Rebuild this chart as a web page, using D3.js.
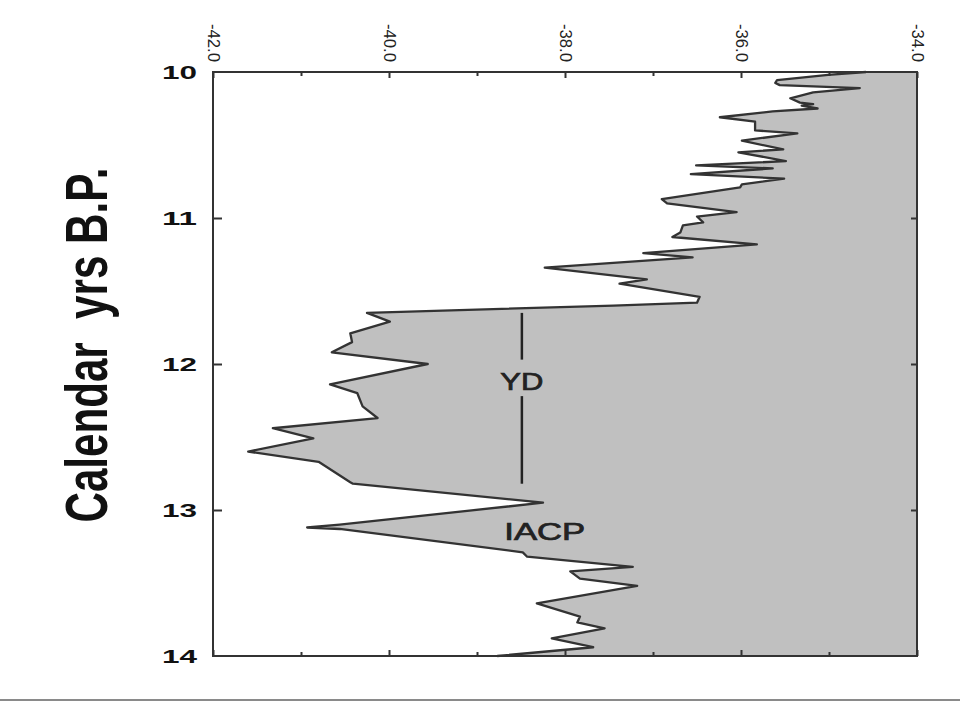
<!DOCTYPE html>
<html>
<head>
<meta charset="utf-8">
<style>
  body { margin: 0; background: #fff; }
  svg text { font-family: "Liberation Sans", Arial, sans-serif; }
</style>
<script src="https://d3js.org/d3.v7.min.js"></script>
</head>
<body>
<div id="chart"></div>
<script>
// calendar age (kyr B.P.) and d18O-like values
var ages = [10.00, 10.02, 10.055, 10.075, 10.09, 10.11, 10.14, 10.18, 10.21, 10.22, 10.23, 10.25, 10.27,
  10.31, 10.34, 10.40, 10.42, 10.47, 10.53, 10.55, 10.61, 10.64, 10.66, 10.70, 10.73, 10.77, 10.79,
  10.87, 10.90, 10.96, 10.99, 11.03, 11.05, 11.10, 11.13, 11.18, 11.24, 11.27, 11.34, 11.42, 11.45,
  11.54, 11.58, 11.60, 11.65, 11.71, 11.79, 11.85, 11.92, 12.00, 12.14, 12.20, 12.29, 12.37, 12.44,
  12.51, 12.60, 12.67, 12.81, 12.82, 12.95, 13.10, 13.12, 13.13, 13.29, 13.32, 13.39, 13.42, 13.47,
  13.52, 13.64, 13.73, 13.77, 13.81, 13.88, 13.94, 14.00];
var values = [-34.58, -35.01, -35.59, -35.61, -35.56, -34.65, -35.18, -35.44, -35.33, -35.18, -35.31, -35.13, -35.64,
  -36.24, -35.84, -35.84, -35.36, -35.99, -35.52, -36.03, -35.49, -36.51, -35.64, -36.57, -35.51, -35.99, -36.01,
  -36.90, -36.84, -36.05, -36.50, -36.43, -36.66, -36.69, -36.78, -35.82, -37.11, -36.55, -38.23, -37.07, -37.38,
  -36.47, -36.50, -37.45, -40.25, -39.99, -40.44, -40.42, -40.65, -39.56, -40.67, -40.36, -40.30, -40.13, -41.32,
  -40.86, -41.60, -40.80, -40.44, -40.41, -38.25, -40.56, -40.93, -40.56, -38.48, -38.43, -37.23, -37.94, -37.83,
  -37.18, -38.32, -37.83, -37.86, -37.55, -38.15, -37.68, -38.77];

var xTicks = [-42, -40, -38, -36, -34];
var xTickLabels = ["-42.0", "-40.0", "-38.0", "-36.0", "-34.0"];
var xMinor = [-41, -39, -37, -35];
var yTicks = [10, 11, 12, 13, 14];
var yTickLabels = ["10", "11", "12", "13", "14"];

// YD and IACP annotations (data units)
var ydBar = [[11.65, 11.97], [12.22, 12.82]];
var ydX = -38.49;

var data = ages.map(function(a, i) { return {age: a, v: values[i]}; });

var width = 960, height = 702;
var svg = d3.select("#chart").append("svg")
  .attr("width", width)
  .attr("height", height);

var x = d3.scaleLinear().domain([-42, -34]).range([213, 917]);
var y = d3.scaleLinear().domain([10, 14]).range([72, 656]);

// gray fill between the curve and the right edge
var area = d3.area()
  .y(function(d) { return y(d.age); })
  .x0(x(-34))
  .x1(function(d) { return x(d.v); });

svg.append("path")
  .datum(data)
  .attr("d", area)
  .attr("fill", "#c0c0c0");

var line = d3.line()
  .x(function(d) { return x(d.v); })
  .y(function(d) { return y(d.age); });

svg.append("path")
  .datum(data)
  .attr("d", line)
  .attr("fill", "none")
  .attr("stroke", "#333")
  .attr("stroke-width", 2.3)
  .attr("stroke-linejoin", "round");

// ticks only, labels drawn by hand below
function tickAxis(g, axis) {
  g.call(axis);
  g.select(".domain").remove();
  g.selectAll("line").attr("stroke", "#333").attr("stroke-width", 2);
  g.selectAll("text").remove();
}

svg.append("g").attr("transform", "translate(0,72)")
  .call(tickAxis, d3.axisTop(x).tickValues(xTicks).tickSize(-6));
svg.append("g").attr("transform", "translate(0,72)")
  .call(tickAxis, d3.axisTop(x).tickValues(xMinor).tickSize(-4));
svg.append("g").attr("transform", "translate(0,656)")
  .call(tickAxis, d3.axisBottom(x).tickValues(xTicks).tickSize(-6));
svg.append("g").attr("transform", "translate(0,656)")
  .call(tickAxis, d3.axisBottom(x).tickValues(xMinor).tickSize(-4));
svg.append("g").attr("transform", "translate(213,0)")
  .call(tickAxis, d3.axisLeft(y).tickValues([11, 12, 13]).tickSize(-9));
svg.append("g").attr("transform", "translate(917,0)")
  .call(tickAxis, d3.axisRight(y).tickValues([11, 12, 13]).tickSize(-6));

// frame
svg.append("rect")
  .attr("x", x(-42)).attr("y", y(10))
  .attr("width", x(-34) - x(-42)).attr("height", y(14) - y(10))
  .attr("fill", "none")
  .attr("stroke", "#333")
  .attr("stroke-width", 2);

// top tick labels, rotated
svg.selectAll(".xlab")
  .data(xTicks)
  .enter().append("text")
  .attr("class", "xlab")
  .attr("transform", function(d) { return "translate(" + x(d) + ",24) rotate(90)"; })
  .attr("dominant-baseline", "central")
  .attr("text-anchor", "start")
  .attr("font-size", 17)
  .attr("textLength", 38)
  .attr("lengthAdjust", "spacingAndGlyphs")
  .attr("fill", "#222")
  .text(function(d, i) { return xTickLabels[i]; });

// left tick labels
svg.selectAll(".ylab")
  .data(yTicks)
  .enter().append("text")
  .attr("class", "ylab")
  .attr("x", 197)
  .attr("y", function(d) { return y(d) + 7; })
  .attr("text-anchor", "end")
  .attr("font-size", 18)
  .attr("font-weight", "bold")
  .attr("textLength", 35)
  .attr("lengthAdjust", "spacingAndGlyphs")
  .attr("fill", "#111")
  .text(function(d, i) { return yTickLabels[i]; });

// axis title
svg.append("text")
  .attr("transform", "translate(107,345) rotate(-90)")
  .attr("text-anchor", "middle")
  .attr("font-size", 60)
  .attr("font-weight", "bold")
  .attr("textLength", 355)
  .attr("lengthAdjust", "spacingAndGlyphs")
  .style("white-space", "pre")
  .attr("fill", "#111")
  .text("Calendar  yrs B.P.");

// YD bar and labels
svg.selectAll(".ydbar")
  .data(ydBar)
  .enter().append("line")
  .attr("class", "ydbar")
  .attr("x1", x(ydX)).attr("x2", x(ydX))
  .attr("y1", function(d) { return y(d[0]); })
  .attr("y2", function(d) { return y(d[1]); })
  .attr("stroke", "#222")
  .attr("stroke-width", 2.5);

svg.append("text")
  .attr("x", x(ydX))
  .attr("y", y(12.12) + 8)
  .attr("text-anchor", "middle")
  .attr("font-size", 23)
  .attr("textLength", 43)
  .attr("lengthAdjust", "spacingAndGlyphs")
  .attr("fill", "#222")
  .attr("stroke", "#222")
  .attr("stroke-width", 0.7)
  .text("YD");

svg.append("text")
  .attr("x", x(-38.23))
  .attr("y", y(13.15) + 8)
  .attr("text-anchor", "middle")
  .attr("font-size", 23)
  .attr("textLength", 81)
  .attr("lengthAdjust", "spacingAndGlyphs")
  .attr("fill", "#222")
  .attr("stroke", "#222")
  .attr("stroke-width", 0.7)
  .text("IACP");

// page rule at the bottom
svg.append("rect")
  .attr("x", 0).attr("y", 699)
  .attr("width", width).attr("height", 2)
  .attr("fill", "#8a8a8a");
</script>
</body>
</html>
